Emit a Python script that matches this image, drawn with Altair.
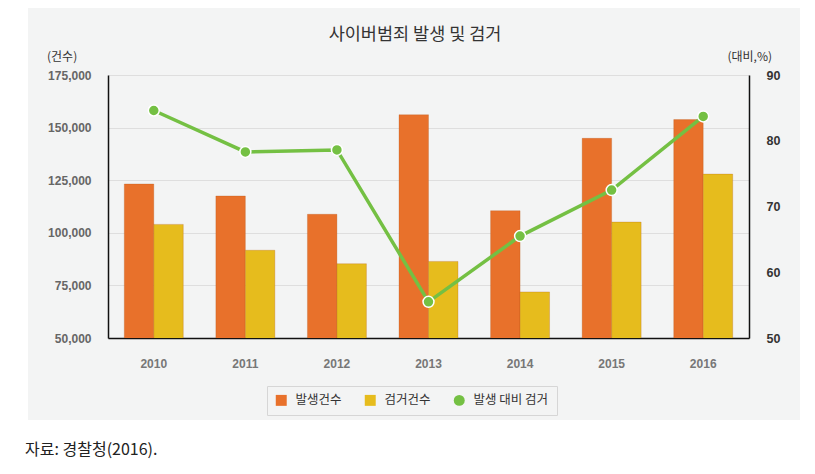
import altair as alt
import pandas as pd

years = ["2010", "2011", "2012", "2013", "2014", "2015", "2016"]
occur = [123200, 117500, 108800, 156100, 110500, 144900, 153800]
arrest = [104000, 91700, 85300, 86400, 71900, 105100, 127900]
ratio = [84.6, 78.3, 78.6, 55.5, 65.5, 72.5, 83.7]

series_names = ["발생건수", "검거건수", "발생 대비 검거"]
series_colors = ["#e8712b", "#e6bc1d", "#74c043"]

left_ticks = [50000, 75000, 100000, 125000, 150000, 175000]
right_ticks = [50, 60, 70, 80, 90]

title_text = "사이버범죄 발생 및 검거"
left_unit = "(건수)"
right_unit = "(대비,%)"
source_text = "자료:  경찰청(2016)."

bars_df = pd.DataFrame(
    {
        "year": years * 2,
        "series": [series_names[0]] * len(years) + [series_names[1]] * len(years),
        "value": occur + arrest,
    }
)
line_df = pd.DataFrame({"year": years, "series": [series_names[2]] * len(years), "ratio": ratio})
one = pd.DataFrame({"a": [0]})

W, H = 641, 263
LEFT_FONT = "Liberation Sans"
KFONT = "Noto Sans CJK KR"
PANEL = "#f3f4f4"

color_scale = alt.Scale(domain=series_names, range=series_colors)
shape_scale = alt.Scale(domain=series_names, range=["square", "square", "circle"])
size_scale = alt.Scale(domain=series_names, range=[120, 120, 42])

legend = alt.Legend(
    orient="none",
    legendX=159,
    legendY=311,
    direction="horizontal",
    title=None,
    fillColor=PANEL,
    strokeColor="#d6d6d6",
    padding=8,
    labelFont=KFONT,
    labelFontSize=12.5,
    labelColor="#333",
    labelOffset=8,
    columnPadding=22,
    symbolStrokeWidth=0,
)

x_enc = alt.X(
    "year:N",
    sort=years,
    scale=alt.Scale(paddingInner=0.356, paddingOuter=0.178),
    axis=alt.Axis(
        title=None,
        labelAngle=0,
        ticks=False,
        labelPadding=20,
        labelColor="#777",
        labelFont=LEFT_FONT,
        labelFontWeight="bold",
        labelFontSize=12,
        domainColor="#111",
        domainWidth=1.5,
        grid=False,
    ),
)

# white areas outside the grey panel
white_bottom = (
    alt.Chart(one)
    .mark_rect(color="white")
    .encode(x=alt.value(-110), x2=alt.value(710), y=alt.value(345), y2=alt.value(400))
)
white_left = (
    alt.Chart(one)
    .mark_rect(color="white")
    .encode(x=alt.value(-110), x2=alt.value(-80), y=alt.value(-80), y2=alt.value(400))
)
white_right = (
    alt.Chart(one)
    .mark_rect(color="white")
    .encode(x=alt.value(692), x2=alt.value(710), y=alt.value(-80), y2=alt.value(400))
)

bars = (
    alt.Chart(bars_df)
    .mark_bar(clip=True, strokeWidth=1, strokeOpacity=0.25, stroke="#b05010")
    .encode(
        x=x_enc,
        xOffset=alt.XOffset("series:N", sort=series_names[:2]),
        y=alt.Y(
            "value:Q",
            scale=alt.Scale(domain=[left_ticks[0], left_ticks[-1]], nice=False, zero=False),
            axis=alt.Axis(
                title=None,
                values=left_ticks,
                labelExpr="format(datum.value, ',')",
                ticks=False,
                labelPadding=17,
                labelColor="#666",
                labelFont=LEFT_FONT,
                labelFontWeight="bold",
                labelFontSize=12,
                gridColor="#dedede",
                domainColor="#111",
                domainWidth=1.5,
            ),
        ),
        color=alt.Color("series:N", scale=color_scale, legend=legend),
    )
)

right_y_scale = alt.Scale(domain=[right_ticks[0], right_ticks[-1]], nice=False, zero=False)
right_axis = alt.Axis(
    title=None,
    orient="right",
    values=right_ticks,
    ticks=False,
    grid=False,
    labelPadding=17,
    labelColor="#333",
    labelFont=LEFT_FONT,
    labelFontWeight="bold",
    labelFontSize=12.5,
    domainColor="#111",
    domainWidth=1.5,
)

line = (
    alt.Chart(line_df)
    .mark_line(color="#74c043", strokeWidth=3.5)
    .encode(
        x=alt.X("year:N", sort=years),
        y=alt.Y("ratio:Q", scale=right_y_scale, axis=right_axis),
    )
)

points = (
    alt.Chart(line_df)
    .mark_point(filled=True, opacity=1, stroke="white", strokeWidth=1.5)
    .encode(
        x=alt.X("year:N", sort=years),
        y=alt.Y("ratio:Q", scale=right_y_scale, axis=right_axis),
        color=alt.Color("series:N", scale=color_scale, legend=legend),
        shape=alt.Shape("series:N", scale=shape_scale, legend=legend),
        size=alt.Size("series:N", scale=size_scale, legend=legend),
    )
)

right = alt.layer(line, points)

title_mark = (
    alt.Chart(one)
    .mark_text(text=title_text, font=KFONT, fontSize=17.5, color="#333", align="center", baseline="middle")
    .encode(x=alt.value(307), y=alt.value(-40))
)
left_unit_mark = (
    alt.Chart(one)
    .mark_text(text=left_unit, font=KFONT, fontSize=12, color="#333", align="left", baseline="middle")
    .encode(x=alt.value(-61), y=alt.value(-18))
)
right_unit_mark = (
    alt.Chart(one)
    .mark_text(text=right_unit, font=KFONT, fontSize=12, color="#333", align="right", baseline="middle")
    .encode(x=alt.value(664), y=alt.value(-18))
)
source_mark = (
    alt.Chart(one)
    .mark_text(text=source_text, font=KFONT, fontSize=16, color="#222", align="left", baseline="middle")
    .encode(x=alt.value(-83), y=alt.value(375))
)

chart = (
    alt.layer(
        white_bottom, white_left, white_right,
        bars, right,
        title_mark, left_unit_mark, right_unit_mark, source_mark,
    )
    .resolve_scale(y="independent")
    .properties(
        width=W,
        height=H,
        autosize=alt.AutoSizeParams(type="none"),
        padding={"left": 100, "top": 67, "right": 58, "bottom": 128},
        background=PANEL,
    )
    .configure_view(stroke=None)
)

chart.save("out.html", embed_options={"renderer": "svg", "actions": False})
